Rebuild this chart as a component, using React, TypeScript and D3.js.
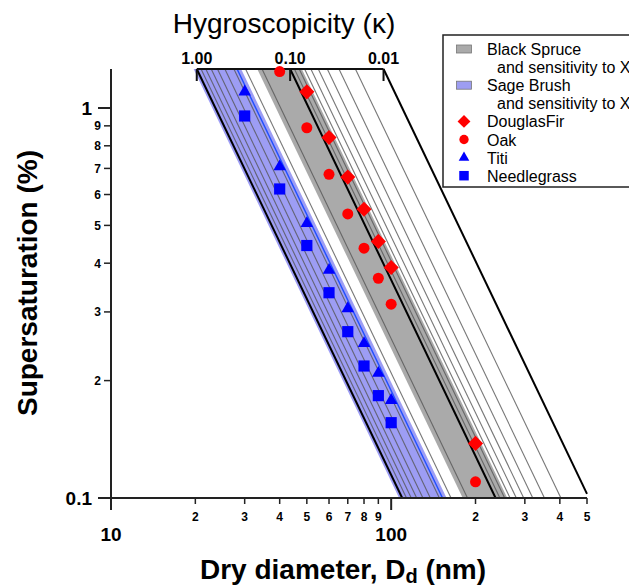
import React from "react";
import * as d3 from "d3";

// ---- data ----
const douglasD = [50, 60, 70, 80, 90, 100, 200];
const douglasS = [1.1, 0.84, 0.665, 0.55, 0.455, 0.39, 0.138];
const oakD = [40, 50, 60, 70, 80, 90, 100, 200];
const oakS = [1.24, 0.89, 0.676, 0.535, 0.437, 0.366, 0.314, 0.11];
const titiD = [30, 40, 50, 60, 70, 80, 90, 100];
const titiS = [1.1, 0.707, 0.506, 0.384, 0.306, 0.249, 0.209, 0.178];
const needleD = [30, 40, 50, 60, 70, 80, 90, 100];
const needleS = [0.954, 0.62, 0.444, 0.336, 0.267, 0.218, 0.183, 0.156];

const kappaGrid = [0.9, 0.8, 0.7, 0.6, 0.5, 0.4, 0.3, 0.2, 0.09, 0.08, 0.07, 0.06, 0.05, 0.04, 0.03, 0.02];
const kappaFrame = [1, 0.1, 0.01];
const kappaTickLabels = ["1.00", "0.10", "0.01"];
const sageBand = [1.08, 0.335];
const sageCentral = 0.37;
const spruceBand = [0.225, 0.075];

const xMajor = [10, 100];
const xMinor = [20, 30, 40, 50, 60, 70, 80, 90, 200, 300, 400, 500];
const yMajor = [0.1, 1];
const yMinor = [0.2, 0.3, 0.4, 0.5, 0.6, 0.7, 0.8, 0.9];

const legendItems = [
  { label: "Black Spruce", sub: "and sensitivity to X", kind: "swatch", color: "#aaaaaa" },
  { label: "Sage Brush", sub: "and sensitivity to X", kind: "swatch", color: "#9d9df2" },
  { label: "DouglasFir", kind: "diamond", color: "#ff0000" },
  { label: "Oak", kind: "circle", color: "#ff0000" },
  { label: "Titi", kind: "triangle", color: "#0000ff" },
  { label: "Needlegrass", kind: "square", color: "#0000ff" },
];

// ---- constants ----
const D1 = 109.5; // diameter where kappa=1 reaches s=0.1%
const sTop = Math.pow(10, 0.1);
const sBot = 0.1;
const Dmin = 10;
const Dmax = 500;

const x = d3.scaleLog().domain([Dmin, Dmax]).range([111, 587]);
const y = d3.scaleLog().domain([sBot, sTop]).range([498, 69]);

const sOf = (k: number, D: number) => 0.1 / Math.sqrt(k) * Math.pow(D1 / D, 1.5);
const DOf = (k: number, s: number) => D1 * Math.pow(0.1 / (s * Math.sqrt(k)), 2 / 3);

function kEnds(k: number): [number, number][] {
  const Dt = DOf(k, sTop);
  let Db = DOf(k, sBot);
  let sb = sBot;
  if (Db > Dmax) {
    Db = Dmax;
    sb = sOf(k, Dmax);
  }
  return [
    [x(Dt), y(sTop)],
    [x(Db), y(sb)],
  ];
}

const line = d3.line();

function bandPath(k1: number, k2: number) {
  const a = kEnds(k1);
  const b = kEnds(k2);
  return line([a[0], a[1], b[1], b[0]]) + "Z";
}

const markerPath = (kind: string) => {
  if (kind === "triangle") return d3.symbol(d3.symbolTriangle, 68)()!;
  if (kind === "square") return d3.symbol(d3.symbolSquare, 125)()!;
  if (kind === "diamond") return d3.symbol(d3.symbolSquare, 115)()!;
  return d3.symbol(d3.symbolCircle, 95)()!;
};

function Marker({ kind, color, cx, cy, scale = 1 }: any) {
  const rot = kind === "diamond" ? " rotate(45)" : "";
  return (
    <path
      d={markerPath(kind)}
      transform={`translate(${cx},${cy})${rot} scale(${scale})`}
      fill={color}
    />
  );
}

const series = [
  { D: douglasD, S: douglasS, kind: "diamond", color: "#ff0000" },
  { D: oakD, S: oakS, kind: "circle", color: "#ff0000" },
  { D: titiD, S: titiS, kind: "triangle", color: "#0000ff" },
  { D: needleD, S: needleS, kind: "square", color: "#0000ff" },
];

export default function App() {
  const font = "'Liberation Sans', Arial, Helvetica, sans-serif";
  const x0 = x(Dmin);
  const y0 = y(sBot);
  const yT = y(sTop);
  const topLeft = kEnds(kappaFrame[0])[0][0];
  const topRight = kEnds(kappaFrame[2])[0][0];
  return (
    <svg width={629} height={587} style={{ position: "absolute", left: 0, top: 0, fontFamily: font }}>
      <rect x={0} y={0} width={629} height={587} fill="#ffffff" />
      {/* bands */}
      <path d={bandPath(sageBand[0], sageBand[1])} fill="#9d9df4" />
      <path d={bandPath(spruceBand[0], spruceBand[1])} fill="#aaaaaa" />
      {/* grid kappa lines */}
      {kappaGrid.map((k) => {
        const e = kEnds(k);
        return <path key={k} d={line(e)!} stroke="#555" strokeOpacity={0.8} strokeWidth={1.1} fill="none" />;
      })}
      {/* sage central */}
      <path d={line(kEnds(sageCentral))!} stroke="#1f4fff" strokeWidth={1.4} fill="none" />
      {/* frame kappa lines */}
      {kappaFrame.map((k) => (
        <path key={k} d={line(kEnds(k))!} stroke="#000" strokeWidth={2} fill="none" />
      ))}
      {/* top kappa axis */}
      <line x1={topLeft} x2={topRight} y1={yT} y2={yT} stroke="#111" strokeWidth={2} />
      {kappaFrame.map((k, i) => {
        const xx = kEnds(k)[0][0];
        return (
          <g key={k}>
            <line x1={xx} x2={xx} y1={yT} y2={yT + 12} stroke="#111" strokeWidth={2} />
            <text x={xx} y={yT - 5} textAnchor="middle" fontSize={16} fontWeight="bold">
              {kappaTickLabels[i]}
            </text>
          </g>
        );
      })}
      <text x={284} y={33} textAnchor="middle" fontSize={28}>
        Hygroscopicity (κ)
      </text>
      {/* axes */}
      <line x1={x0} x2={x(Dmax)} y1={y0} y2={y0} stroke="#222" strokeWidth={2} />
      <line x1={x0} x2={x0} y1={yT} y2={y0} stroke="#222" strokeWidth={2} />
      {xMajor.map((v) => (
        <g key={v}>
          <line x1={x(v)} x2={x(v)} y1={y0} y2={y0 + 12} stroke="#222" strokeWidth={2} />
          <text x={x(v)} y={541} textAnchor="middle" fontSize={19} fontWeight="bold">
            {v}
          </text>
        </g>
      ))}
      {xMinor.map((v) => (
        <g key={v}>
          <line x1={x(v)} x2={x(v)} y1={y0} y2={y0 + 6} stroke="#222" strokeWidth={1.5} />
          <text x={x(v)} y={521} textAnchor="middle" fontSize={12} fontWeight="bold">
            {String(v).charAt(0)}
          </text>
        </g>
      ))}
      {yMajor.map((v) => (
        <g key={v}>
          <line x1={x0 - 13} x2={x0} y1={y(v)} y2={y(v)} stroke="#222" strokeWidth={2} />
          <text x={92} y={y(v)} dy="0.36em" textAnchor="end" fontSize={19} fontWeight="bold">
            {v}
          </text>
        </g>
      ))}
      {yMinor.map((v) => (
        <g key={v}>
          <line x1={x0 - 7} x2={x0} y1={y(v)} y2={y(v)} stroke="#222" strokeWidth={1.5} />
          <text x={101} y={y(v)} dy="0.36em" textAnchor="end" fontSize={12} fontWeight="bold">
            {Math.round(v * 10)}
          </text>
        </g>
      ))}
      <text
        transform={`translate(37,283) rotate(-90)`}
        textAnchor="middle"
        fontSize={28}
        fontWeight="bold"
      >
        Supersaturation (%)
      </text>
      <text x={200} y={579} fontSize={28} fontWeight="bold">
        Dry diameter, D<tspan fontSize={20} dy={4}>d</tspan>
        <tspan dy={-4}> (nm)</tspan>
      </text>
      {/* data markers */}
      {series.map((sr, si) =>
        sr.D.map((d, i) => (
          <Marker key={si + "-" + i} kind={sr.kind} color={sr.color} cx={x(d)} cy={y(sr.S[i])} />
        ))
      )}
      {/* legend */}
      <rect x={443} y={35} width={200} height={152} fill="#fff" stroke="#222" strokeWidth={1.5} />
      {(() => {
        let row = 0;
        const out: any[] = [];
        legendItems.forEach((it, i) => {
          const base = 55 + row * 18.1;
          const cy = base - 6;
          if (it.kind === "swatch") {
            out.push(
              <rect key={"s" + i} x={456.5} y={cy - 4} width={15} height={8} fill={it.color} stroke="#777" strokeWidth={0.8} />
            );
          } else {
            out.push(<Marker key={"m" + i} kind={it.kind} color={it.color} cx={464} cy={cy} scale={0.85} />);
          }
          out.push(
            <text key={"t" + i} x={487} y={base} fontSize={16}>
              {it.label}
            </text>
          );
          row++;
          if (it.sub) {
            out.push(
              <text key={"u" + i} x={497} y={55 + row * 18.1} fontSize={16}>
                {it.sub}
              </text>
            );
            row++;
          }
        });
        return out;
      })()}
    </svg>
  );
}
